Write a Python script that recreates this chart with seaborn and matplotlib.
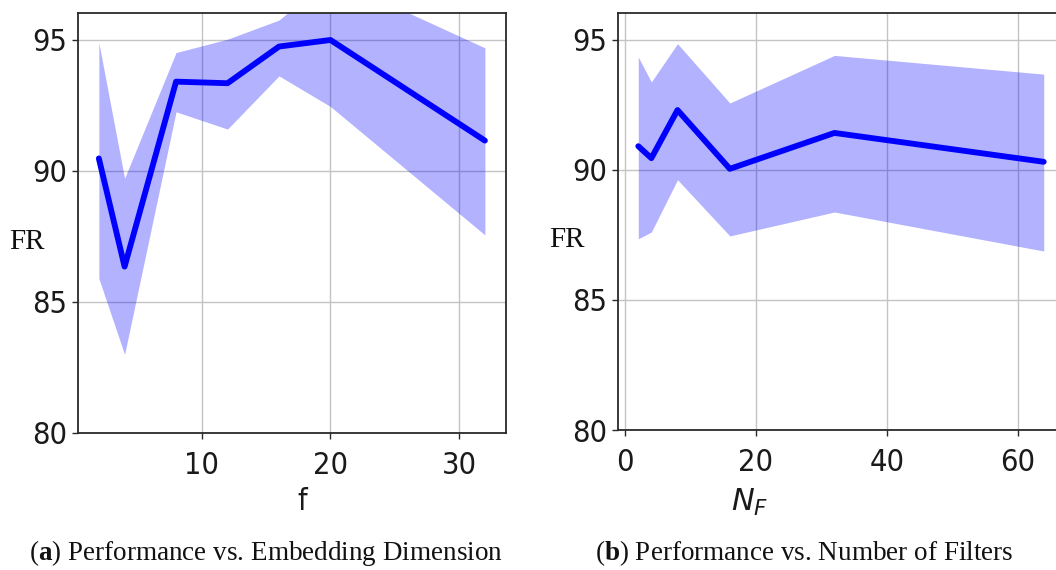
import numpy as np
import pandas as pd
import matplotlib
matplotlib.use("Agg")
import matplotlib.pyplot as plt
import seaborn as sns

# ---- data ----
f_vals = [2, 4, 8, 12, 16, 20, 32]
f_mean = [90.48, 86.35, 93.41, 93.35, 94.75, 95.00, 91.16]
f_upper = [94.90, 89.72, 94.52, 95.03, 95.76, 97.40, 94.70]
f_lower = [85.90, 83.00, 92.26, 91.60, 93.63, 92.46, 87.56]

nf_vals = [2, 4, 8, 16, 32, 64]
nf_mean = [90.91, 90.45, 92.30, 90.04, 91.42, 90.31]
nf_upper = [94.34, 93.38, 94.85, 92.57, 94.40, 93.68]
nf_lower = [87.35, 87.61, 89.62, 87.46, 88.38, 86.88]

y_ticks = [80, 85, 90, 95]
left_xticks = [10, 20, 30]
right_xticks = [0, 20, 40, 60]
ylabel_text = "FR"
xlabel_left = "f"
xlabel_right = r"$N_F$"
caption_a = r"($\mathbf{a}$) Performance vs. Embedding Dimension"
caption_b = r"($\mathbf{b}$) Performance vs. Number of Filters"

sns.set_theme(style="whitegrid")
plt.rcParams["font.family"] = ["DejaVu Sans"]
plt.rcParams["mathtext.fontset"] = "custom"
plt.rcParams["mathtext.it"] = "DejaVu Sans:italic"
plt.rcParams["mathtext.rm"] = "Liberation Serif"
plt.rcParams["mathtext.bf"] = "Liberation Serif:bold"

df_f = pd.DataFrame({"x": f_vals, "y": f_mean})
df_n = pd.DataFrame({"x": nf_vals, "y": nf_mean})

fig = plt.figure(figsize=(10.56, 5.70), dpi=100)
ax1 = fig.add_axes([78 / 1056, (570 - 433) / 570, 428 / 1056, 420 / 570])
ax2 = fig.add_axes([618 / 1056, (570 - 430) / 570, 446 / 1056, 417 / 570])

TICK_SIZE = 22
tick_font = dict(family="DejaVu Sans", stretch="condensed", size=TICK_SIZE)
serif_font = dict(family="Liberation Serif", size=21)

for ax, df, lo, hi in [(ax1, df_f, f_lower, f_upper), (ax2, df_n, nf_lower, nf_upper)]:
    ax.fill_between(df["x"], lo, hi, color=(0.0, 0.0, 1.0), alpha=0.3, linewidth=0)
    sns.lineplot(data=df, x="x", y="y", ax=ax, color=(0.0, 0.0, 1.0), linewidth=4.2)
    ax.set_facecolor("white")
    ax.grid(True, color="#c4c4c4", linewidth=1.0)
    for s in ax.spines.values():
        s.set_color("#2a2a2a")
        s.set_linewidth(1.3)
    ax.set_ylim(80, 96.03)
    ax.set_yticks(y_ticks)
    ax.tick_params(axis="both", which="both", length=4, width=1, color="#2a2a2a",
                   direction="out", left=True, bottom=True)
    ax.tick_params(axis="y", pad=4)
    ax.tick_params(axis="x", pad=9)

ax1.set_xlim(0.38, 33.64)
ax1.set_xticks(left_xticks)
ax2.set_xticks(right_xticks)
for ax in (ax1, ax2):
    for lab in ax.get_xticklabels() + ax.get_yticklabels():
        lab.set_fontfamily("DejaVu Sans")
        lab.set_fontstretch("condensed")
        lab.set_fontsize(TICK_SIZE)
        lab.set_color("#1a1a1a")

ax1.set_ylabel(ylabel_text, rotation=0, fontdict=serif_font, color="#111111")
ax2.set_ylabel(ylabel_text, rotation=0, fontdict=serif_font, color="#111111")
ax1.yaxis.set_label_coords(-0.119, 0.455)
ax2.yaxis.set_label_coords(-0.114, 0.456)
ax1.yaxis.label.set_verticalalignment("center")
ax2.yaxis.label.set_verticalalignment("center")

ax1.set_xlabel(xlabel_left, fontdict=tick_font, color="#1a1a1a")
ax2.set_xlabel(xlabel_right, fontdict=tick_font, color="#1a1a1a")
ax1.xaxis.set_label_coords(0.523, -0.128)
ax2.xaxis.set_label_coords(0.296, -0.136)

fig.text(266 / 1056, 1 - 553 / 570, caption_a, ha="center", va="center",
         family="Liberation Serif", size=19.5, color="#111111")
fig.text(804 / 1056, 1 - 553 / 570, caption_b, ha="center", va="center",
         family="Liberation Serif", size=19.5, color="#111111")

fig.savefig("out.png", dpi=100, facecolor="white")
